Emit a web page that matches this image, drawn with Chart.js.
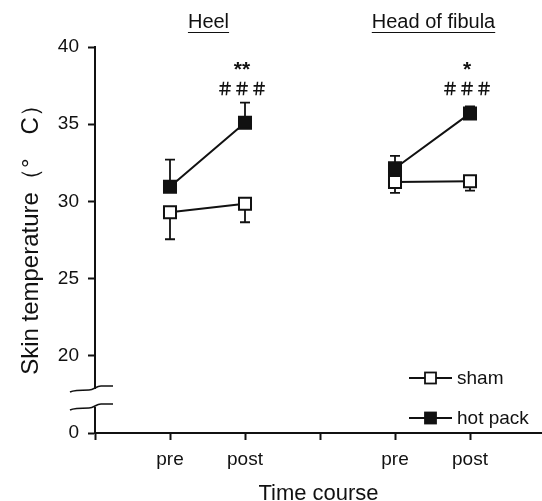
<!DOCTYPE html>
<html>
<head>
<meta charset="utf-8">
<script src="https://cdn.jsdelivr.net/npm/chart.js@4/dist/chart.umd.min.js"></script>
<style>
  html, body { margin: 0; padding: 0; background: #fff; }
  #wrap { width: 542px; height: 501px; }
</style>
</head>
<body>
<div id="wrap"><canvas id="skin"></canvas></div>
<script>
// data (x = 1..5, slot 3 is the gap between sites)
const xLabels = ['', 'pre', 'post', '', 'pre', 'post'];
const sites = ['Heel', 'Head of fibula'];
const shamMean = [29.3, 29.85, null, 31.25, 31.3];
const shamErr = [1.75, 1.2, null, 0.7, 0.6];
const hotMean = [30.95, 35.1, null, 32.15, 35.7];
const hotErr = [1.75, 1.3, null, 0.8, 0.45];
const yValues = [15, 20, 25, 30, 35, 40];
const yLabels = ['0', '20', '25', '30', '35', '40'];
const starMarks = ['**', '*'];
const hashMarks = ['＃＃＃', '＃＃＃'];

const FONT = '"Liberation Sans", Arial, sans-serif';

const toPoints = arr => arr.map((v, i) => ({ x: i + 1, y: v }));

// one-sided error bars: sham down, hot pack up
const errorBars = {
  id: 'errorBars',
  beforeDatasetsDraw(chart) {
    const ctx = chart.ctx;
    const y = chart.scales.y;
    chart.data.datasets.forEach((ds, di) => {
      const meta = chart.getDatasetMeta(di);
      meta.data.forEach((pt, i) => {
        const m = ds.data[i].y;
        if (m == null) return;
        const end = y.getPixelForValue(m + ds.errDir * ds.err[i]);
        ctx.save();
        ctx.strokeStyle = '#111';
        ctx.lineWidth = 1.8;
        ctx.beginPath();
        ctx.moveTo(pt.x, pt.y);
        ctx.lineTo(pt.x, end);
        ctx.moveTo(pt.x - 5, end);
        ctx.lineTo(pt.x + 5, end);
        ctx.stroke();
        ctx.restore();
      });
    });
  }
};

// site headings, significance marks, axis break, legend
const extras = {
  id: 'extras',
  afterDraw(chart) {
    const ctx = chart.ctx;
    const xs = chart.scales.x;
    ctx.save();
    ctx.fillStyle = '#111';
    ctx.strokeStyle = '#111';
    ctx.textBaseline = 'middle';
    ctx.textAlign = 'center';

    // headings
    ctx.font = '20px ' + FONT;
    sites.forEach((s, k) => {
      const cx = xs.getPixelForValue(1.5 + 3 * k) + 1;
      ctx.fillText(s, cx, 22);
      const w = ctx.measureText(s).width;
      ctx.lineWidth = 1.2;
      ctx.beginPath();
      ctx.moveTo(cx - w / 2, 32.5);
      ctx.lineTo(cx + w / 2, 32.5);
      ctx.stroke();
    });

    // significance marks above post
    starMarks.forEach((s, k) => {
      const cx = xs.getPixelForValue(2 + 3 * k) - 3;
      ctx.font = 'bold 21px ' + FONT;
      ctx.fillText(s, cx, 70);
      ctx.font = 'bold 17px "Noto Sans CJK JP", sans-serif';
      ctx.fillText(hashMarks[k], cx, 89);
    });

    // axis break
    const ax = xs.left;
    const left = ax - 25, right = ax + 18;
    const y1 = 389, y2 = 407;
    ctx.fillStyle = '#fff';
    ctx.fillRect(left, y1, right - left, y2 - y1);
    ctx.lineWidth = 1.6;
    [y1, y2].forEach(yy => {
      ctx.beginPath();
      ctx.moveTo(left, yy + 3);
      ctx.bezierCurveTo(left + 4, yy + 1, left + 8, yy + 1, ax - 6, yy + 1);
      ctx.bezierCurveTo(ax - 1, yy + 1, ax + 1, yy - 3, ax + 6, yy - 3);
      ctx.lineTo(right, yy - 3);
      ctx.stroke();
    });

    // legend
    ctx.textAlign = 'left';
    ctx.font = '19px ' + FONT;
    const rows = [[378, '#fff', 'sham'], [418, '#111', 'hot pack']];
    rows.forEach(([yy, fill, label]) => {
      ctx.lineWidth = 2;
      ctx.beginPath();
      ctx.moveTo(409, yy);
      ctx.lineTo(452, yy);
      ctx.stroke();
      ctx.fillStyle = fill;
      ctx.fillRect(425, yy - 5.5, 11, 11);
      ctx.lineWidth = 1.8;
      ctx.strokeRect(425, yy - 5.5, 11, 11);
      ctx.fillStyle = '#111';
      ctx.fillText(label, 457, yy + 1);
    });
    ctx.restore();
  }
};

new Chart(document.getElementById('skin'), {
  type: 'line',
  data: {
    datasets: [
      {
        label: 'sham',
        data: toPoints(shamMean),
        err: shamErr,
        errDir: -1,
        borderColor: '#111',
        borderWidth: 2,
        pointStyle: 'rect',
        pointRadius: 8.5,
        pointBorderWidth: 2,
        pointBackgroundColor: '#fff',
        pointBorderColor: '#111',
        spanGaps: false
      },
      {
        label: 'hot pack',
        data: toPoints(hotMean),
        err: hotErr,
        errDir: 1,
        borderColor: '#111',
        borderWidth: 2,
        pointStyle: 'rect',
        pointRadius: 8.5,
        pointBorderWidth: 2,
        pointBackgroundColor: '#111',
        pointBorderColor: '#111',
        spanGaps: false
      }
    ]
  },
  options: {
    responsive: true,
    maintainAspectRatio: false,
    animation: false,
    layout: { autoPadding: false, padding: { top: 47, right: 0, bottom: 0, left: 0 } },
    plugins: { legend: { display: false }, tooltip: { enabled: false } },
    scales: {
      x: {
        type: 'linear',
        min: 0,
        max: 5.96,
        afterBuildTicks: s => { s.ticks = xLabels.map((_, i) => ({ value: i })); },
        afterFit: s => { s.height = 68; s.paddingLeft = 0; s.paddingRight = 0; },
        ticks: {
          callback: (v, i) => xLabels[i],
          color: '#111',
          font: { family: FONT, size: 19 },
          padding: 8,
          maxRotation: 0,
          autoSkip: false
        },
        grid: { drawOnChartArea: false, tickLength: 7, tickColor: '#111', tickWidth: 2 },
        border: { color: '#111', width: 2 },
        title: {
          display: true,
          text: 'Time course',
          color: '#111',
          font: { family: FONT, size: 22, lineHeight: 0.6 },
          padding: { top: 0, bottom: 0 }
        }
      },
      y: {
        min: 15,
        max: 40,
        afterBuildTicks: s => { s.ticks = yValues.map(v => ({ value: v })); },
        afterFit: s => { s.width = 95; },
        ticks: {
          callback: (v, i) => yLabels[i],
          color: '#111',
          font: { family: FONT, size: 19 },
          padding: 9
        },
        grid: { drawOnChartArea: false, tickLength: 7, tickColor: '#111', tickWidth: 2 },
        border: { color: '#111', width: 2 },
        title: {
          display: true,
          text: '\u2002Skin temperature（°\u2003C）',
          color: '#111',
          font: { family: FONT, size: 24 },
          padding: { top: 17, bottom: 0 }
        }
      }
    }
  },
  plugins: [errorBars, extras]
});
</script>
</body>
</html>
